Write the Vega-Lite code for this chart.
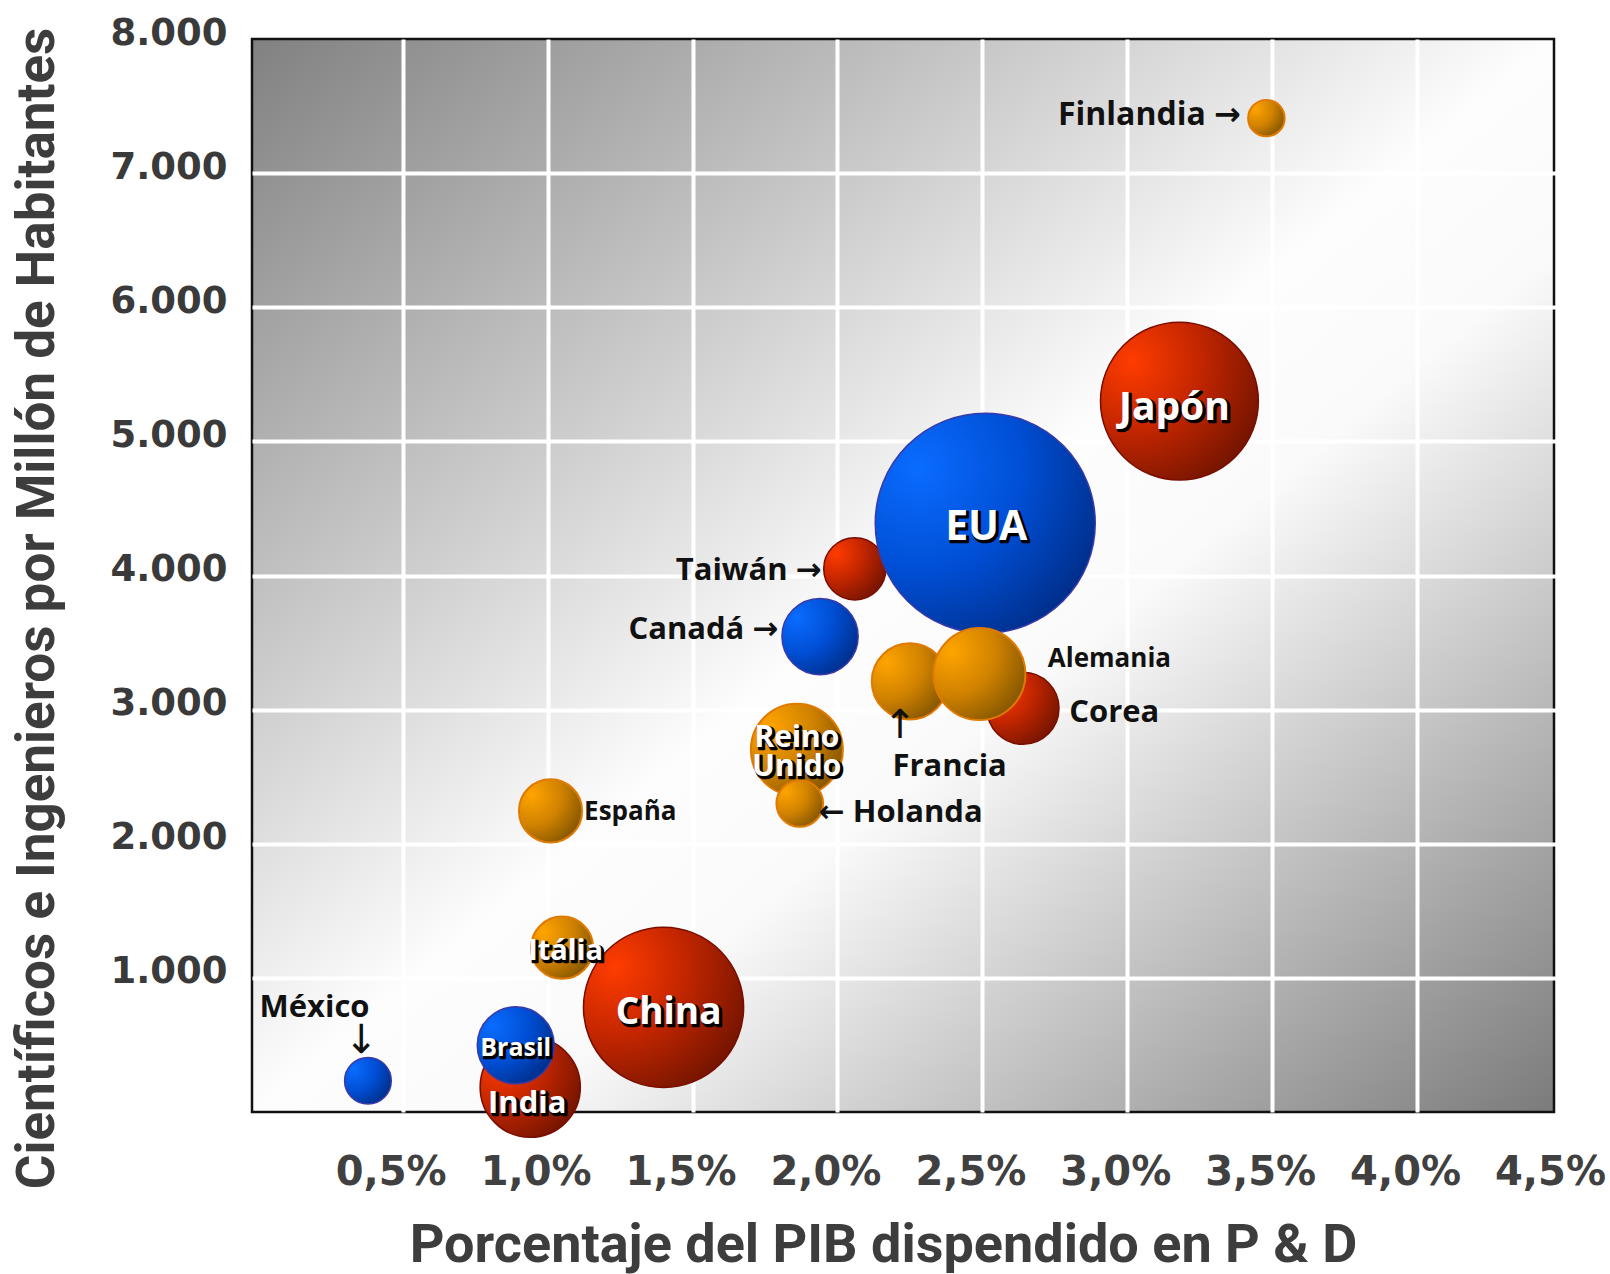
{
  "$schema": "https://vega.github.io/schema/vega-lite/v6.json",
  "width": 1302,
  "height": 1073,
  "autosize": {"type": "none"},
  "padding": {"left": 252, "top": 39, "right": 56, "bottom": 162},
  "background": "#ffffff",
  "config": {
    "view": {
      "fill": {
        "gradient": "linear", "x1": 0, "y1": 0, "x2": 1, "y2": 1,
        "stops": [
          {"offset": 0, "color": "#818181"},
          {"offset": 0.5, "color": "#fdfdfd"},
          {"offset": 0.6, "color": "#fafafa"},
          {"offset": 1, "color": "#7b7b7b"}
        ]
      },
      "stroke": "#111111",
      "strokeWidth": 2.5
    }
  },
  "data": {
    "values": [
      {"pais": "Finlandia", "etiqueta": "Finlandia →", "region": "Europa", "pib": 3.48, "cientificos": 7410, "gasto": 11},
      {"pais": "Japón", "etiqueta": "Japón", "region": "Asia", "pib": 3.18, "cientificos": 5300, "gasto": 206},
      {"pais": "EUA", "etiqueta": "EUA", "region": "América", "pib": 2.51, "cientificos": 4390, "gasto": 400},
      {"pais": "Taiwán", "etiqueta": "Taiwán →", "region": "Asia", "pib": 2.06, "cientificos": 4050, "gasto": 32},
      {"pais": "Canadá", "etiqueta": "Canadá →", "region": "América", "pib": 1.94, "cientificos": 3545, "gasto": 48},
      {"pais": "Corea", "etiqueta": "Corea", "region": "Asia", "pib": 2.64, "cientificos": 3010, "gasto": 43},
      {"pais": "Francia", "etiqueta": "Francia", "region": "Europa", "pib": 2.25, "cientificos": 3210, "gasto": 48},
      {"pais": "Alemania", "etiqueta": "Alemania", "region": "Europa", "pib": 2.49, "cientificos": 3265, "gasto": 70},
      {"pais": "Reino Unido", "etiqueta": "Reino\nUnido", "region": "Europa", "pib": 1.86, "cientificos": 2700, "gasto": 70},
      {"pais": "Holanda", "etiqueta": "← Holanda", "region": "Europa", "pib": 1.87, "cientificos": 2300, "gasto": 18},
      {"pais": "España", "etiqueta": "España", "region": "Europa", "pib": 1.01, "cientificos": 2245, "gasto": 33},
      {"pais": "Itália", "etiqueta": "Itália", "region": "Europa", "pib": 1.05, "cientificos": 1225, "gasto": 32},
      {"pais": "China", "etiqueta": "China", "region": "Asia", "pib": 1.40, "cientificos": 780, "gasto": 212},
      {"pais": "India", "etiqueta": "India", "region": "Asia", "pib": 0.94, "cientificos": 185, "gasto": 83},
      {"pais": "Brasil", "etiqueta": "Brasil", "region": "América", "pib": 0.89, "cientificos": 497, "gasto": 49},
      {"pais": "México", "etiqueta": "México", "region": "América", "pib": 0.38, "cientificos": 233, "gasto": 18}
    ]
  },
  "encoding": {
    "x": {
      "field": "pib", "type": "quantitative",
      "scale": {"domain": [-0.02, 4.5], "range": [0, 1310], "nice": false, "zero": false},
      "axis": {
        "values": [0.5, 1, 1.5, 2, 2.5, 3, 3.5, 4, 4.5],
        "labelExpr": "replace(format(datum.value, '.1f'), '.', ',') + '%'",
        "domain": false, "ticks": false, "tickSize": 0,
        "labelFont": "DejaVu Sans", "labelFontWeight": "bold", "labelFontSize": 40, "labelColor": "#404040",
        "labelBaseline": "alphabetic", "labelAlign": "center", "labelPadding": 72, "labelOffset": -12,
        "labelFlush": false, "labelOverlap": false, "labelBound": false,
        "grid": true, "gridColor": "#ffffff", "gridWidth": 4,
        "gridOpacity": {"condition": {"test": "datum.value >= 4.5", "value": 0}, "value": 1},
        "title": "Porcentaje del PIB dispendido en P & D",
        "titleFont": "Roboto", "titleFontWeight": "bold", "titleFontSize": 54, "titleColor": "#3d3d3d",
        "titleX": 631, "titleY": 149, "titleAlign": "center", "titleBaseline": "alphabetic", "titleAnchor": null
      }
    },
    "y": {
      "field": "cientificos", "type": "quantitative",
      "scale": {"domain": [0, 8000], "nice": false, "zero": true},
      "axis": {
        "values": [1000, 2000, 3000, 4000, 5000, 6000, 7000, 8000],
        "labelExpr": "replace(format(datum.value, ',d'), ',', '.')",
        "domain": false, "ticks": false, "tickSize": 0,
        "labelFont": "DejaVu Sans", "labelFontWeight": "bold", "labelFontSize": 37, "labelColor": "#3a3a3a",
        "labelBaseline": "alphabetic", "labelAlign": "right", "labelPadding": 25, "labelOffset": 5,
        "labelFlush": false, "labelOverlap": false, "labelBound": false,
        "grid": true, "gridColor": "#ffffff", "gridWidth": 4,
        "gridOpacity": {"condition": {"test": "datum.value >= 8000", "value": 0}, "value": 1},
        "title": "Científicos e Ingenieros por Millón de Habitantes",
        "titleFont": "Roboto", "titleFontWeight": "bold", "titleFontSize": 53, "titleColor": "#3d3d3d",
        "titleX": -199, "titleY": 569, "titleAlign": "center", "titleBaseline": "alphabetic", "titleAngle": 270, "titleAnchor": null
      }
    }
  },
  "layer": [
    {
      "transform": [{"filter": "datum.region === 'Asia'"}],
      "mark": {
        "type": "circle", "opacity": 1, "stroke": "#7a0c00", "strokeWidth": 1.5,
        "fill": {"gradient": "radial", "x1": 0.2, "y1": 0.25, "r1": 0, "x2": 0.2, "y2": 0.25, "r2": 0.95,
          "stops": [{"offset": 0, "color": "#ff3c00"}, {"offset": 0.45, "color": "#c42600"}, {"offset": 1, "color": "#6a1200"}]}
      },
      "encoding": {"size": {"field": "gasto", "type": "quantitative", "scale": {"domain": [0, 400], "range": [0, 48400]}, "legend": null}}
    },
    {
      "transform": [{"filter": "datum.region === 'América'"}],
      "mark": {
        "type": "circle", "opacity": 1, "stroke": "#3a3aa8", "strokeWidth": 1.5,
        "fill": {"gradient": "radial", "x1": 0.2, "y1": 0.25, "r1": 0, "x2": 0.2, "y2": 0.25, "r2": 0.95,
          "stops": [{"offset": 0, "color": "#0a6cff"}, {"offset": 0.5, "color": "#004ed4"}, {"offset": 1, "color": "#002a80"}]}
      },
      "encoding": {"size": {"field": "gasto", "type": "quantitative", "scale": {"domain": [0, 400], "range": [0, 48400]}, "legend": null}}
    },
    {
      "transform": [{"filter": "datum.region === 'Europa'"}],
      "mark": {
        "type": "circle", "opacity": 1, "stroke": "#e07a00", "strokeWidth": 2,
        "fill": {"gradient": "radial", "x1": 0.2, "y1": 0.25, "r1": 0, "x2": 0.2, "y2": 0.25, "r2": 0.95,
          "stops": [{"offset": 0, "color": "#ffa400"}, {"offset": 0.5, "color": "#d08200"}, {"offset": 1, "color": "#7a5000"}]}
      },
      "encoding": {"size": {"field": "gasto", "type": "quantitative", "scale": {"domain": [0, 400], "range": [0, 48400]}, "legend": null}}
    },
    {
      "transform": [{"filter": "datum.pais === 'Japón'"}],
      "encoding": {"text": {"field": "etiqueta"}},
      "layer": [
        {"mark": {"type": "text", "font": "Open Sans", "fontWeight": "bold", "fontSize": 39, "align": "center", "baseline": "alphabetic", "fill": "#000000", "stroke": "#000000", "strokeWidth": 2.5, "strokeJoin": "round", "dx": -3, "dy": 20.5}},
        {"mark": {"type": "text", "font": "Open Sans", "fontWeight": "bold", "fontSize": 39, "align": "center", "baseline": "alphabetic", "fill": "#ffffff", "dx": -5, "dy": 18.5}}
      ]
    },
    {
      "transform": [{"filter": "datum.pais === 'EUA'"}],
      "encoding": {"text": {"field": "etiqueta"}},
      "layer": [
        {"mark": {"type": "text", "font": "Open Sans", "fontWeight": "bold", "fontSize": 41, "align": "center", "baseline": "alphabetic", "fill": "#000000", "stroke": "#000000", "strokeWidth": 2.5, "strokeJoin": "round", "dx": 3, "dy": 19}},
        {"mark": {"type": "text", "font": "Open Sans", "fontWeight": "bold", "fontSize": 41, "align": "center", "baseline": "alphabetic", "fill": "#ffffff", "dx": 1, "dy": 17}}
      ]
    },
    {
      "transform": [{"filter": "datum.pais === 'China'"}],
      "encoding": {"text": {"field": "etiqueta"}},
      "layer": [
        {"mark": {"type": "text", "font": "Open Sans", "fontWeight": "bold", "fontSize": 37, "align": "center", "baseline": "alphabetic", "fill": "#000000", "stroke": "#000000", "strokeWidth": 2.5, "strokeJoin": "round", "dx": 7, "dy": 18.5}},
        {"mark": {"type": "text", "font": "Open Sans", "fontWeight": "bold", "fontSize": 37, "align": "center", "baseline": "alphabetic", "fill": "#ffffff", "dx": 5, "dy": 16.5}}
      ]
    },
    {
      "transform": [{"filter": "datum.pais === 'India'"}],
      "encoding": {"text": {"field": "etiqueta"}},
      "layer": [
        {"mark": {"type": "text", "font": "Open Sans", "fontWeight": "bold", "fontSize": 31, "align": "center", "baseline": "alphabetic", "fill": "#000000", "stroke": "#000000", "strokeWidth": 2.5, "strokeJoin": "round", "dx": -1, "dy": 27.5}},
        {"mark": {"type": "text", "font": "Open Sans", "fontWeight": "bold", "fontSize": 31, "align": "center", "baseline": "alphabetic", "fill": "#ffffff", "dx": -3, "dy": 25.5}}
      ]
    },
    {
      "transform": [{"filter": "datum.pais === 'Brasil'"}],
      "encoding": {"text": {"field": "etiqueta"}},
      "layer": [
        {"mark": {"type": "text", "font": "Open Sans", "fontWeight": "bold", "fontSize": 25, "align": "center", "baseline": "alphabetic", "fill": "#000000", "stroke": "#000000", "strokeWidth": 2.5, "strokeJoin": "round", "dx": 2, "dy": 12.5}},
        {"mark": {"type": "text", "font": "Open Sans", "fontWeight": "bold", "fontSize": 25, "align": "center", "baseline": "alphabetic", "fill": "#ffffff", "dx": 0, "dy": 10.5}}
      ]
    },
    {
      "transform": [{"filter": "datum.pais === 'Itália'"}],
      "encoding": {"text": {"field": "etiqueta"}},
      "layer": [
        {"mark": {"type": "text", "font": "Open Sans", "fontWeight": "bold", "fontSize": 29, "align": "center", "baseline": "alphabetic", "fill": "#000000", "stroke": "#000000", "strokeWidth": 2.5, "strokeJoin": "round", "dx": 5.5, "dy": 14.3}},
        {"mark": {"type": "text", "font": "Open Sans", "fontWeight": "bold", "fontSize": 29, "align": "center", "baseline": "alphabetic", "fill": "#ffffff", "dx": 3.5, "dy": 12.3}}
      ]
    },
    {
      "transform": [{"filter": "datum.pais === 'Reino Unido'"}],
      "encoding": {"text": {"field": "etiqueta"}},
      "layer": [
        {"mark": {"type": "text", "font": "Open Sans", "fontWeight": "bold", "fontSize": 30, "lineBreak": "\n", "lineHeight": 29, "align": "center", "baseline": "alphabetic", "fill": "#000000", "stroke": "#000000", "strokeWidth": 2.5, "strokeJoin": "round", "dx": 2, "dy": -1.3}},
        {"mark": {"type": "text", "font": "Open Sans", "fontWeight": "bold", "fontSize": 30, "lineBreak": "\n", "lineHeight": 29, "align": "center", "baseline": "alphabetic", "fill": "#ffffff", "dx": 0, "dy": -3.3}}
      ]
    },
    {
      "transform": [{"filter": "datum.pais === 'Finlandia'"}],
      "mark": {"type": "text", "font": "Open Sans, DejaVu Sans", "fontWeight": "bold", "fontSize": 32, "align": "right", "baseline": "alphabetic", "fill": "#111111", "dx": -25.5, "dy": 7.3},
      "encoding": {"text": {"field": "etiqueta"}}
    },
    {
      "transform": [{"filter": "datum.pais === 'Taiwán'"}],
      "mark": {"type": "text", "font": "Open Sans, DejaVu Sans", "fontWeight": "bold", "fontSize": 31, "align": "right", "baseline": "alphabetic", "fill": "#111111", "dx": -33.3, "dy": 10.8},
      "encoding": {"text": {"field": "etiqueta"}}
    },
    {
      "transform": [{"filter": "datum.pais === 'Canadá'"}],
      "mark": {"type": "text", "font": "Open Sans, DejaVu Sans", "fontWeight": "bold", "fontSize": 31, "align": "right", "baseline": "alphabetic", "fill": "#111111", "dx": -41.7, "dy": 2.3},
      "encoding": {"text": {"field": "etiqueta"}}
    },
    {
      "transform": [{"filter": "datum.pais === 'Alemania'"}],
      "mark": {"type": "text", "font": "Open Sans, DejaVu Sans", "fontWeight": "bold", "fontSize": 26, "align": "left", "baseline": "alphabetic", "fill": "#111111", "dx": 68.4, "dy": -6.7},
      "encoding": {"text": {"field": "etiqueta"}}
    },
    {
      "transform": [{"filter": "datum.pais === 'Corea'"}],
      "mark": {"type": "text", "font": "Open Sans, DejaVu Sans", "fontWeight": "bold", "fontSize": 31, "align": "left", "baseline": "alphabetic", "fill": "#111111", "dx": 46.3, "dy": 13.4},
      "encoding": {"text": {"field": "etiqueta"}}
    },
    {
      "transform": [{"filter": "datum.pais === 'Francia'"}],
      "mark": {"type": "text", "font": "Open Sans, DejaVu Sans", "fontWeight": "bold", "fontSize": 31, "align": "left", "baseline": "alphabetic", "fill": "#111111", "dx": -17.4, "dy": 95},
      "encoding": {"text": {"field": "etiqueta"}}
    },
    {
      "transform": [{"filter": "datum.pais === 'Francia'"}],
      "mark": {"type": "text", "text": "↑", "font": "DejaVu Sans", "fontSize": 40, "align": "center", "baseline": "middle", "fill": "#111111", "dx": -10, "dy": 45}
    },
    {
      "transform": [{"filter": "datum.pais === 'Holanda'"}],
      "mark": {"type": "text", "font": "Open Sans, DejaVu Sans", "fontWeight": "bold", "fontSize": 31, "align": "left", "baseline": "alphabetic", "fill": "#111111", "dx": 19, "dy": 18.4},
      "encoding": {"text": {"field": "etiqueta"}}
    },
    {
      "transform": [{"filter": "datum.pais === 'España'"}],
      "mark": {"type": "text", "font": "Open Sans, DejaVu Sans", "fontWeight": "bold", "fontSize": 26, "align": "left", "baseline": "alphabetic", "fill": "#111111", "dx": 33.6, "dy": 9.5},
      "encoding": {"text": {"field": "etiqueta"}}
    },
    {
      "transform": [{"filter": "datum.pais === 'México'"}],
      "mark": {"type": "text", "font": "Open Sans, DejaVu Sans", "fontWeight": "bold", "fontSize": 31, "align": "center", "baseline": "alphabetic", "fill": "#111111", "dx": -53.4, "dy": -63.4},
      "encoding": {"text": {"field": "etiqueta"}}
    },
    {
      "transform": [{"filter": "datum.pais === 'México'"}],
      "mark": {"type": "text", "text": "↓", "font": "DejaVu Sans", "fontSize": 40, "align": "center", "baseline": "middle", "fill": "#111111", "dx": -6.7, "dy": -39.7}
    }
  ]
}
